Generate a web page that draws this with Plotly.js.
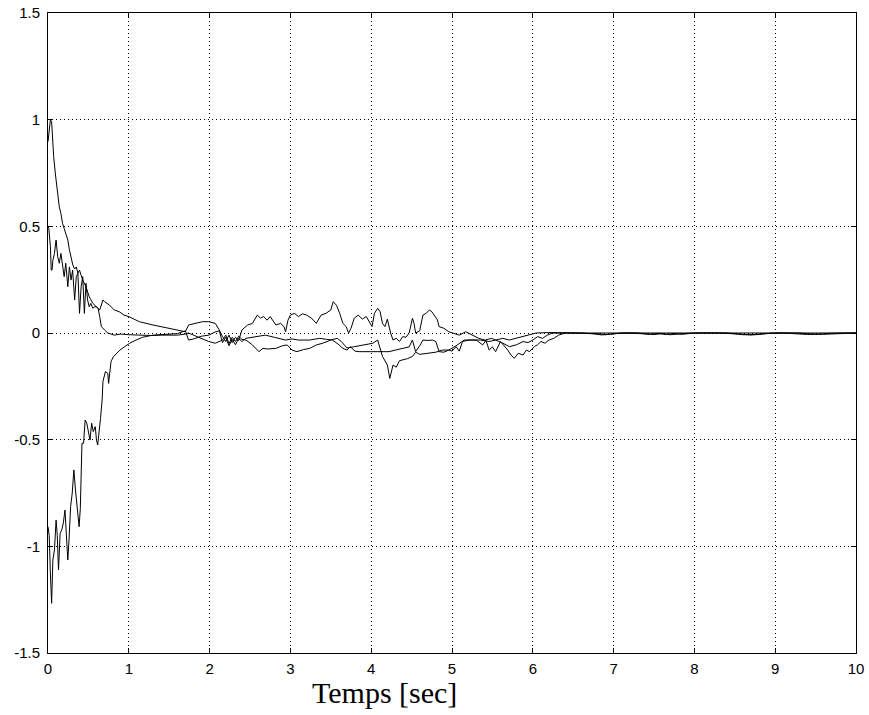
<!DOCTYPE html>
<html>
<head>
<meta charset="utf-8">
<script src="https://cdn.plot.ly/plotly-3.0.1.min.js"></script>
<style>html,body{margin:0;padding:0;background:#fff}#chart{width:869px;height:715px}</style>
</head>
<body>
<div id="chart"></div>
<script>
// Curve 1 (starts near 1)
var tA = [0, 0.01, 0.03, 0.045, 0.055, 0.07, 0.09, 0.11, 0.12, 0.14,
  0.16, 0.18, 0.2, 0.22, 0.245, 0.265, 0.285, 0.307, 0.33, 0.35,
  0.37, 0.39, 0.41, 0.43, 0.47, 0.51, 0.555, 0.6, 0.64, 0.68,
  0.7, 0.76, 0.82, 0.88, 0.94, 1.0, 1.13, 1.3, 1.5, 1.62,
  1.7, 1.74, 1.83, 1.91, 1.99, 2.04, 2.07, 2.12, 2.16, 2.2,
  2.24, 2.28, 2.32, 2.36, 2.4, 2.47, 2.53, 2.59, 2.63, 2.67,
  2.71, 2.75, 2.82, 2.88, 2.92, 2.94, 2.97, 3.0, 3.05, 3.1,
  3.15, 3.2, 3.26, 3.32, 3.38, 3.44, 3.5, 3.53, 3.57, 3.61,
  3.65, 3.69, 3.72, 3.75, 3.79, 3.84, 3.89, 3.94, 3.98, 4.01,
  4.04, 4.08, 4.11, 4.14, 4.17, 4.2, 4.24, 4.27, 4.31, 4.35,
  4.39, 4.43, 4.47, 4.51, 4.53, 4.55, 4.6, 4.64, 4.68, 4.72,
  4.75, 4.78, 4.82, 4.84, 4.9, 4.96, 5.02, 5.09, 5.17, 5.25,
  5.33, 5.41, 5.49, 5.54, 5.63, 5.71, 5.8, 5.88, 5.96, 6.04,
  6.2, 6.4, 6.6, 6.8, 7.0, 7.5, 8.0, 8.5, 9.0, 9.5, 10];
var yA = [0.897, 0.944, 1.0, 0.99, 0.92, 0.827, 0.75, 0.68, 0.64, 0.59,
  0.56, 0.514, 0.49, 0.467, 0.436, 0.39, 0.358, 0.319, 0.3, 0.31,
  0.28, 0.295, 0.27, 0.248, 0.217, 0.17, 0.139, 0.123, 0.108, 0.155,
  0.147, 0.131, 0.108, 0.1, 0.084, 0.077, 0.053, 0.0375, 0.022, 0.014,
  0.006, 0.0375, 0.045, 0.053, 0.053, 0.05, 0.045, 0.014, -0.017, -0.04,
  -0.01, -0.045, -0.02, -0.035, 0.014, 0.0375, 0.045, 0.084, 0.07, 0.077,
  0.06, 0.077, 0.0375, 0.045, 0.03, 0.006, 0.06, 0.084, 0.092, 0.077,
  0.09, 0.084, 0.07, 0.045, 0.084, 0.092, 0.108, 0.147, 0.13, 0.092,
  0.045, 0.03, 0.0, 0.022, 0.069, 0.084, 0.065, 0.077, 0.053, 0.03,
  0.092, 0.116, 0.1, 0.045, 0.03, 0.065, 0.0, -0.033, -0.025, -0.04,
  -0.017, -0.02, 0.0, 0.069, 0.045, 0.0, 0.01, 0.084, 0.092, 0.108,
  0.1, 0.084, 0.061, 0.03, 0.022, 0.006, 0.0, -0.01, 0.006, -0.01,
  -0.025, -0.033, -0.025, -0.033, -0.025, -0.033, -0.025, -0.017, -0.01, 0.0,
  0.002, 0, 0, 0, 0, 0, 0, 0, 0, 0, 0];

// Curve 2 (starts near 0.5)
var tB = [0, 0.01, 0.03, 0.04, 0.05, 0.06, 0.08, 0.1, 0.12, 0.14,
  0.16, 0.18, 0.2, 0.22, 0.245, 0.265, 0.285, 0.305, 0.33, 0.35,
  0.37, 0.39, 0.41, 0.43, 0.45, 0.47, 0.49, 0.51, 0.53, 0.555,
  0.58, 0.6, 0.62, 0.64, 0.66, 0.7, 0.74, 0.82, 0.9, 1.0,
  1.1, 1.2, 1.3, 1.4, 1.5, 1.6, 1.7, 1.74, 1.8, 1.9,
  1.99, 2.07, 2.12, 2.16, 2.2, 2.24, 2.28, 2.32, 2.36, 2.4,
  2.45, 2.53, 2.61, 2.66, 2.72, 2.82, 2.9, 2.96, 3.02, 3.08,
  3.16, 3.24, 3.32, 3.4, 3.5, 3.58, 3.63, 3.7, 3.78, 3.85,
  3.93, 4.02, 4.08, 4.14, 4.2, 4.23, 4.27, 4.31, 4.35, 4.39,
  4.45, 4.51, 4.55, 4.6, 4.7, 4.8, 4.88, 4.96, 5.05, 5.09,
  5.15, 5.25, 5.35, 5.46, 5.54, 5.63, 5.71, 5.8, 5.88, 5.94,
  6.0, 6.06, 6.12, 6.18, 6.24, 6.4, 6.6, 6.8, 6.9, 7.0,
  7.1, 7.3, 7.45, 7.55, 7.65, 7.75, 7.85, 8.0, 8.3, 8.5,
  8.6, 8.7, 8.85, 9.0, 9.3, 9.45, 9.6, 9.75, 10];
var yB = [0.5, 0.49, 0.405, 0.295, 0.295, 0.34, 0.373, 0.436, 0.358, 0.327,
  0.373, 0.31, 0.264, 0.327, 0.217, 0.31, 0.248, 0.295, 0.155, 0.264,
  0.28, 0.092, 0.217, 0.264, 0.092, 0.233, 0.155, 0.123, 0.139, 0.116,
  0.123, 0.123, 0.115, 0.077, 0.03, 0.014, 0.0, -0.01, -0.005, -0.008,
  -0.01, -0.01, -0.012, -0.01, -0.01, -0.01, -0.005, 0.0, -0.01, -0.025,
  -0.04, -0.048, -0.04, -0.033, -0.01, -0.05, -0.02, -0.04, -0.015, -0.03,
  -0.033, -0.056, -0.0875, -0.072, -0.075, -0.072, -0.06, -0.056, -0.08, -0.0875,
  -0.078, -0.072, -0.056, -0.048, -0.033, -0.025, -0.04, -0.07, -0.065, -0.06,
  -0.055, -0.048, -0.033, -0.11, -0.15, -0.213, -0.15, -0.16, -0.13, -0.127,
  -0.12, -0.11, -0.09, -0.1, -0.095, -0.09, -0.08, -0.08, -0.06, -0.048,
  -0.033, -0.033, -0.033, -0.04, -0.033, -0.048, -0.064, -0.055, -0.04, -0.045,
  -0.033, -0.017, -0.025, -0.01, 0.0, 0.0, 0.0, -0.003, -0.008, -0.004,
  0.0, 0.0, -0.006, -0.002, -0.007, -0.002, -0.006, 0.0, 0.0, -0.004,
  -0.008, -0.008, -0.003, 0.0, 0.0, -0.005, -0.006, -0.003, 0.0];

// Curve 3 (starts near -1)
var tC = [0, 0.015, 0.03, 0.045, 0.06, 0.08, 0.1, 0.115, 0.13, 0.15,
  0.17, 0.19, 0.21, 0.225, 0.245, 0.26, 0.28, 0.3, 0.32, 0.34,
  0.35, 0.37, 0.385, 0.4, 0.42, 0.44, 0.46, 0.48, 0.5, 0.52,
  0.54, 0.56, 0.585, 0.6, 0.615, 0.63, 0.65, 0.67, 0.68, 0.71,
  0.74, 0.75, 0.76, 0.78, 0.81, 0.85, 0.89, 0.95, 1.01, 1.09,
  1.17, 1.3, 1.46, 1.6, 1.7, 1.74, 1.8, 1.9, 1.99, 2.07,
  2.12, 2.16, 2.2, 2.24, 2.28, 2.32, 2.36, 2.4, 2.45, 2.55,
  2.69, 2.8, 2.94, 3.02, 3.1, 3.24, 3.36, 3.45, 3.52, 3.6,
  3.65, 3.7, 3.74, 3.8, 3.85, 4.0, 4.1, 4.19, 4.22, 4.3,
  4.39, 4.47, 4.51, 4.55, 4.6, 4.64, 4.7, 4.76, 4.8, 4.84,
  4.9, 4.96, 5.0, 5.05, 5.09, 5.13, 5.21, 5.3, 5.38, 5.42,
  5.46, 5.5, 5.54, 5.6, 5.69, 5.73, 5.77, 5.82, 5.88, 5.92,
  5.96, 6.02, 6.06, 6.1, 6.15, 6.2, 6.26, 6.32, 6.4, 6.6,
  6.75, 6.85, 6.95, 7.05, 7.2, 7.4, 7.5, 7.6, 7.7, 7.8,
  7.9, 8.1, 8.4, 8.55, 8.7, 8.8, 8.9, 9.1, 9.25, 9.4,
  9.55, 9.65, 9.8, 10];
var yC = [-0.908, -0.95, -1.13, -1.267, -1.064, -1.017, -0.877, -0.95, -1.11, -0.94,
  -0.923, -0.89, -0.83, -0.94, -1.064, -0.97, -0.814, -0.75, -0.642, -0.736,
  -0.783, -0.877, -0.908, -0.822, -0.517, -0.517, -0.408, -0.423, -0.455, -0.502,
  -0.423, -0.462, -0.439, -0.502, -0.525, -0.455, -0.4, -0.314, -0.228, -0.181,
  -0.189, -0.236, -0.189, -0.134, -0.111, -0.095, -0.08, -0.064, -0.048, -0.033,
  -0.02, -0.01, -0.005, -0.003, 0.01, -0.033, -0.028, -0.015, -0.01, 0.005,
  0.01, -0.045, -0.02, -0.06, -0.03, -0.055, -0.025, -0.04, -0.025, -0.02,
  -0.01, -0.02, -0.033, -0.028, -0.033, -0.033, -0.025, -0.03, -0.033, -0.055,
  -0.072, -0.08, -0.064, -0.085, -0.0875, -0.0875, -0.088, -0.09, -0.0875, -0.08,
  -0.072, -0.065, -0.033, -0.0875, -0.06, -0.033, -0.035, -0.033, -0.04, -0.0875,
  -0.09, -0.08, -0.085, -0.064, -0.085, -0.04, -0.033, -0.033, -0.056, -0.035,
  -0.08, -0.065, -0.0875, -0.04, -0.08, -0.103, -0.119, -0.095, -0.103, -0.08,
  -0.0875, -0.064, -0.055, -0.04, -0.048, -0.033, -0.025, -0.01, 0.0, 0.0,
  -0.004, -0.009, -0.006, -0.002, 0.0, -0.004, -0.007, -0.003, -0.008, -0.005,
  -0.002, 0.0, 0.0, -0.005, -0.009, -0.007, -0.002, 0.0, -0.004, -0.007,
  -0.006, -0.002, 0.0, 0.0];

var xTicks = [0, 1, 2, 3, 4, 5, 6, 7, 8, 9, 10];
var xTickText = ['0', '1', '2', '3', '4', '5', '6', '7', '8', '9', '10'];
var yTicks = [-1.5, -1, -0.5, 0, 0.5, 1, 1.5];
var yTickText = ['-1.5', '-1', '-0.5', '0', '0.5', '1', '1.5'];
var xLabel = 'Temps [sec]';

var lineStyle = {color: '#000000', width: 1};
var traces = [
  {x: tA, y: yA, type: 'scatter', mode: 'lines', line: lineStyle, hoverinfo: 'skip'},
  {x: tB, y: yB, type: 'scatter', mode: 'lines', line: lineStyle, hoverinfo: 'skip'},
  {x: tC, y: yC, type: 'scatter', mode: 'lines', line: lineStyle, hoverinfo: 'skip'}
];

var axisCommon = {
  showline: true, linecolor: '#000000', linewidth: 1, mirror: 'ticks',
  ticks: 'inside', ticklen: 5, tickwidth: 1, tickcolor: '#000000',
  showgrid: true, gridcolor: '#000000', gridwidth: 1, griddash: '1px,3px',
  zeroline: false, fixedrange: true,
  tickfont: {family: 'Liberation Sans, Arial, sans-serif', size: 15, color: '#000000'}
};

var layout = {
  width: 869, height: 715,
  margin: {l: 48, r: 13, t: 13, b: 62, pad: 0},
  paper_bgcolor: '#ffffff', plot_bgcolor: '#ffffff',
  showlegend: false,
  xaxis: Object.assign({}, axisCommon, {range: [0, 10], tickmode: 'array', tickvals: xTicks, ticktext: xTickText, ticklabelstandoff: 2}),
  yaxis: Object.assign({}, axisCommon, {range: [-1.5, 1.5], tickmode: 'array', tickvals: yTicks, ticktext: yTickText, ticklabelstandoff: 4}),
  annotations: [{
    text: xLabel, xref: 'paper', yref: 'paper', x: 0.417, y: -0.062,
    xanchor: 'center', yanchor: 'middle', showarrow: false,
    font: {family: 'Liberation Serif, Times New Roman, serif', size: 30, color: '#000000'}
  }]
};

Plotly.newPlot('chart', traces, layout, {staticPlot: true, displayModeBar: false});
</script>
</body>
</html>
